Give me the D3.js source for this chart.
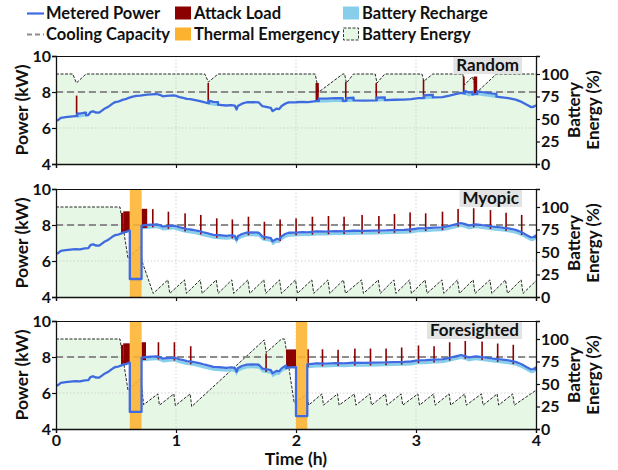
<!DOCTYPE html>
<html>
<head>
<meta charset="utf-8">
<script src="https://cdn.jsdelivr.net/npm/d3@7"></script>
<style>
  body { margin: 0; background: #fff; }
  text { font-family: Lato, "DejaVu Sans", sans-serif; font-weight: bold; fill: #111; }
</style>
</head>
<body>
<script>
// ---- data ----
const xTicks = [0, 1, 2, 3, 4];
const powerTicks = [4, 6, 8, 10];
const energyTicks = [0, 25, 50, 75, 100];
const coolingCapacity = 8;
const recharge = 0.15; // kW

// base metered power (kW) vs time (h)
const powerT = [0.00,0.02,0.04,0.08,0.12,0.16,0.20,0.24,0.27,0.29,0.31,0.33,0.36,0.38,0.40,0.42,0.44,0.46,0.48,0.50,
  0.52,0.54,0.56,0.58,0.60,0.62,0.64,0.67,0.70,0.73,0.76,0.80,0.84,0.87,0.89,0.92,0.95,0.98,1.00,1.03,
  1.06,1.09,1.12,1.16,1.20,1.24,1.28,1.31,1.36,1.42,1.46,1.49,1.505,1.515,1.55,1.59,1.64,1.69,1.72,1.76,
  1.79,1.805,1.82,1.84,1.86,1.88,1.91,1.94,2.00,2.05,2.10,2.17,2.25,2.33,2.40,2.48,2.56,2.67,2.75,2.82,
  2.90,2.96,3.02,3.08,3.15,3.22,3.28,3.33,3.375,3.41,3.44,3.47,3.50,3.55,3.60,3.64,3.70,3.77,3.83,3.88,
  3.92,3.96,3.98,4.00];
const powerV = [6.40,6.45,6.56,6.60,6.63,6.66,6.65,6.70,6.72,6.90,6.93,6.86,6.85,6.95,7.05,7.12,7.20,7.30,7.40,7.45,
  7.47,7.52,7.58,7.60,7.66,7.70,7.74,7.78,7.80,7.83,7.85,7.87,7.89,7.83,7.76,7.78,7.80,7.81,7.78,7.72,
  7.67,7.62,7.60,7.55,7.49,7.42,7.36,7.30,7.28,7.25,7.27,7.24,7.03,7.22,7.35,7.43,7.44,7.42,7.21,7.16,
  7.12,6.94,7.00,7.08,7.05,7.22,7.35,7.42,7.43,7.45,7.44,7.49,7.48,7.51,7.50,7.53,7.52,7.54,7.55,7.57,
  7.58,7.60,7.66,7.67,7.70,7.72,7.80,7.88,7.95,7.90,7.82,7.86,7.89,7.84,7.80,7.76,7.72,7.66,7.58,7.45,
  7.30,7.16,7.18,7.27];

// attack load: [start h, end h, peak kW]
const randomAttacks = [[0.165,0.178,7.8],[1.262,1.275,8.5],[2.163,2.19,8.5],[2.408,2.42,8.55],[2.662,2.674,8.5],
  [3.056,3.068,8.68],[3.39,3.405,8.86],[3.48,3.51,8.86]];
const myopicAttacks = [[0.542,0.56,8.67],[0.56,0.615,8.76],[0.713,0.76,8.9],
  [0.8,0.812,8.88],[0.93,0.942,8.74],[1.069,1.081,8.65],[1.2,1.212,8.56],[1.333,1.345,8.37],[1.463,1.475,8.31],
  [1.597,1.609,8.46],[1.73,1.742,8.18],[1.861,1.873,8.31],[1.994,2.006,8.37],[2.13,2.142,8.46],[2.264,2.276,8.5],
  [2.394,2.406,8.46],[2.544,2.556,8.56],[2.684,2.696,8.5],[2.814,2.826,8.61],[2.944,2.956,8.7],[3.074,3.086,8.65],
  [3.214,3.226,8.74],[3.344,3.356,8.89],[3.474,3.486,8.93],[3.614,3.626,8.83],[3.744,3.756,8.68],[3.874,3.886,8.56]];
const foresightedAttacks = [[0.542,0.56,8.67],[0.56,0.615,8.76],[0.713,0.75,8.82],
  [0.847,0.859,8.82],[0.98,0.992,8.82],[1.116,1.128,8.6],[1.744,1.756,8.2],[1.917,2.0,8.42],
  [2.094,2.106,8.43],[2.214,2.226,8.43],[2.344,2.356,8.4],[2.484,2.496,8.47],[2.614,2.626,8.47],[2.744,2.756,8.47],
  [2.874,2.886,8.53],[3.014,3.026,8.64],[3.144,3.156,8.6],[3.274,3.286,8.82],[3.404,3.416,8.89],[3.544,3.556,8.86],
  [3.674,3.686,8.75],[3.804,3.816,8.68]];

// battery recharge periods: [start h, end h]
const randomRecharge = [[0.178,0.25],[1.275,1.35],[2.19,2.39],[2.42,2.48],[2.674,2.74],[3.068,3.14],[3.405,3.47],[3.51,3.67]];
const myopicRecharge = [[0.713,4.0]];
const foresightedRecharge = [[0.713,1.917],[2.094,4.0]];

// thermal emergency: [start h, end h, metered kW during it]
const randomEmergency = [];
const myopicEmergency = [[0.615,0.713,5.0]];
const foresightedEmergency = [[0.615,0.713,4.95],[2.0,2.094,4.72]];

// battery energy (%): [t, %]
const randomBattery = [[0,100],[0.14,100],[0.17,90],[0.25,100],[1.24,100],[1.27,91],[1.35,100],
  [2.16,100],[2.19,80],[2.39,100],[2.405,100],[2.42,90],[2.48,100],[2.66,100],[2.675,90],[2.74,100],
  [3.05,100],[3.065,92],[3.14,100],[3.39,100],[3.405,88],[3.47,97],[3.51,80],[3.67,100],[4,100]];
const myopicBattery = [[0,100],[0.533,100],[0.6,43],[0.705,56],[0.716,40],[0.81,4],
  [0.932,19],[0.948,4],[1.071,19],[1.087,4],[1.202,19],[1.218,4],[1.335,19],[1.351,4],[1.465,19],[1.481,4],
  [1.599,19],[1.615,4],[1.732,19],[1.748,4],[1.863,19],[1.879,4],[1.996,19],[2.012,4],[2.132,19],[2.148,4],
  [2.266,19],[2.282,4],[2.396,19],[2.412,4],[2.546,19],[2.562,4],[2.686,19],[2.702,4],[2.816,19],[2.832,4],
  [2.946,19],[2.962,4],[3.076,19],[3.092,4],[3.216,19],[3.232,4],[3.346,19],[3.362,4],[3.476,19],[3.492,4],
  [3.616,19],[3.632,4],[3.746,19],[3.762,4],[3.876,19],[3.892,4],[4.0,18]];
const foresightedBattery = [[0,100],[0.533,100],[0.6,43],[0.705,56],[0.716,45],[0.73,27],
  [0.849,39],[0.862,26.5],[0.982,39],[0.995,26],[1.118,39],[1.131,25],[1.735,99],[1.752,85],
  [1.88,100],[1.905,100],[1.985,29],[2.09,38.5],[2.105,26.5],
  [2.216,39],[2.229,26.5],[2.346,39],[2.359,26.5],[2.486,39],[2.499,26.5],[2.616,39],[2.629,26.5],
  [2.746,39],[2.759,26.5],[2.876,39],[2.889,26.5],[3.016,39],[3.029,26.5],[3.146,39],[3.159,26.5],
  [3.276,39],[3.289,26.5],[3.406,39],[3.419,26.5],[3.546,39],[3.559,26.5],[3.676,39],[3.689,26.5],
  [3.806,39],[3.819,26.5],[4.0,43]];

const panels = [
  {name: "Random", attacks: randomAttacks, recharge: randomRecharge, emergency: randomEmergency, battery: randomBattery},
  {name: "Myopic", attacks: myopicAttacks, recharge: myopicRecharge, emergency: myopicEmergency, battery: myopicBattery},
  {name: "Foresighted", attacks: foresightedAttacks, recharge: foresightedRecharge, emergency: foresightedEmergency, battery: foresightedBattery}
];

// ---- layout ----
const width = 618, height = 470;
const left = 56, right = 536;
const tops = [56, 189, 321];
const ph = 108;

const colors = {power: "#3f6be0", attack: "#8b0000", recharge: "#87ceeb", emergency: "#fdb22f",
  cooling: "#8c8c8c", energyFill: "#e6f7e6"};

const svg = d3.select("body").append("svg")
  .attr("width", width).attr("height", height);

const x = d3.scaleLinear([0, 4], [left, right]);
const base = d3.scaleLinear().domain(powerT).range(powerV).clamp(true);

panels.forEach((p, i) => {
  const top = tops[i];
  const y = d3.scaleLinear([4, 10], [top + ph, top]);
  const yb = d3.scaleLinear([0, 120], [top + ph, top]);
  const g = svg.append("g");

  const clipId = "clip" + i;
  g.append("clipPath").attr("id", clipId).append("rect")
    .attr("x", left).attr("y", top).attr("width", right - left).attr("height", ph);
  const plot = g.append("g").attr("clip-path", `url(#${clipId})`);

  // battery energy area
  plot.append("path").datum(p.battery)
    .attr("fill", colors.energyFill)
    .attr("d", d3.area().x(d => x(d[0])).y0(yb(0)).y1(d => yb(d[1])));

  // grid
  plot.selectAll(".gx").data(xTicks.slice(1, -1)).enter().append("line")
    .attr("x1", d => x(d)).attr("x2", d => x(d)).attr("y1", top).attr("y2", top + ph)
    .attr("stroke", "#c8c8c8").attr("stroke-width", 0.8).attr("stroke-dasharray", "1.5,2");
  plot.selectAll(".gy").data(powerTicks.slice(1, -1)).enter().append("line")
    .attr("x1", left).attr("x2", right).attr("y1", d => y(d)).attr("y2", d => y(d))
    .attr("stroke", "#c8c8c8").attr("stroke-width", 0.8).attr("stroke-dasharray", "1.5,2");

  // battery energy line
  plot.append("path").datum(p.battery)
    .attr("fill", "none").attr("stroke", "#111").attr("stroke-width", 0.9)
    .attr("stroke-dasharray", "3,1.5")
    .attr("d", d3.line().x(d => x(d[0])).y(d => yb(d[1])));

  // cooling capacity
  plot.append("line")
    .attr("x1", left).attr("x2", right).attr("y1", y(coolingCapacity)).attr("y2", y(coolingCapacity))
    .attr("stroke", colors.cooling).attr("stroke-width", 2).attr("stroke-dasharray", "7,4");

  // metered power with recharge / emergency steps
  const inRange = (t, a, b, side) => side === "R" ? (t >= a && t < b) : (t > a && t <= b);
  const level = (t, side) => {
    for (const e of p.emergency) if (inRange(t, e[0], e[1], side)) return {lo: e[2], hi: e[2], emerg: true};
    let rc = 0;
    for (const r of p.recharge) if (inRange(t, r[0], r[1], side)) rc = recharge;
    return {lo: base(t), hi: base(t) + rc, emerg: false};
  };
  const breaks = [];
  p.recharge.forEach(r => breaks.push(r[0], r[1]));
  p.emergency.forEach(e => breaks.push(e[0], e[1]));
  const times = Array.from(new Set(powerT.concat(breaks))).sort((a, b) => a - b);
  const pts = [];
  times.forEach(t => {
    if (breaks.includes(t)) {
      pts.push(Object.assign({t}, level(t, "L")));
      pts.push(Object.assign({t}, level(t, "R")));
    } else pts.push(Object.assign({t}, level(t, "R")));
  });

  // recharge band
  plot.append("path").datum(pts)
    .attr("fill", colors.recharge)
    .attr("d", d3.area().defined(d => !d.emerg).x(d => x(d.t))
      .y0(d => y(d.lo) + 1.2).y1(d => y(d.hi) + 1.2));

  // attack load bars
  plot.selectAll(".atk").data(p.attacks).enter().append("rect")
    .attr("fill", colors.attack)
    .attr("x", d => x(d[0]))
    .attr("width", d => Math.max(1.6, x(d[1]) - x(d[0])))
    .attr("y", d => y(d[2]))
    .attr("height", d => y(base((d[0] + d[1]) / 2)) - y(d[2]));

  // thermal emergency
  plot.selectAll(".em").data(p.emergency).enter().append("rect")
    .attr("fill", colors.emergency).attr("opacity", 0.88)
    .attr("x", d => x(d[0])).attr("width", d => x(d[1]) - x(d[0]))
    .attr("y", top).attr("height", ph);

  // metered power line
  plot.append("path").datum(pts)
    .attr("fill", "none").attr("stroke", colors.power).attr("stroke-width", 2.3)
    .attr("stroke-linejoin", "round")
    .attr("d", d3.line().x(d => x(d.t)).y(d => y(d.hi)));

  // frame + axes
  g.append("line").attr("x1", left).attr("x2", right).attr("y1", top + 0.5).attr("y2", top + 0.5)
    .attr("stroke", "#111").attr("stroke-width", 1);

  const ax = g.append("g").attr("transform", `translate(0,${top + ph})`)
    .call(d3.axisBottom(x).tickValues(xTicks).tickSize(4).tickFormat(i === 2 ? d3.format("d") : ""));
  const ay = g.append("g").attr("transform", `translate(${left},0)`)
    .call(d3.axisLeft(y).tickValues(powerTicks).tickSize(4).tickFormat(d3.format("d")));
  const ayb = g.append("g").attr("transform", `translate(${right},0)`)
    .call(d3.axisRight(yb).tickValues(energyTicks).tickSize(4).tickFormat(d3.format("d")));
  [ax, ay, ayb].forEach(a => {
    a.selectAll("path").attr("stroke", "#111").attr("stroke-width", 1.3);
    a.selectAll("line").attr("stroke", "#111").attr("stroke-width", 1.2);
    a.selectAll("text").attr("font-size", 16).attr("fill", "#111");
  });
  ay.selectAll("text").attr("x", -5);
  ayb.selectAll("text").attr("x", 5);
  ax.selectAll("text").attr("y", 6);

  // panel label
  const lab = g.append("g");
  const txt = lab.append("text").text(p.name)
    .attr("x", 519).attr("y", top + 14.5).attr("text-anchor", "end").attr("font-size", 17);
  const bb = txt.node().getBBox();
  lab.insert("rect", "text").attr("x", bb.x - 3).attr("y", top + 1).attr("width", bb.width + 6)
    .attr("height", 17).attr("fill", "#e3e3e3");

  // axis titles
  const cy = top + ph / 2;
  g.append("text").text("Power (kW)").attr("font-size", 17.5).attr("text-anchor", "middle")
    .attr("transform", `translate(28,${cy}) rotate(-90)`);
  g.append("text").text("Battery").attr("font-size", 17).attr("text-anchor", "middle")
    .attr("transform", `translate(580,${cy}) rotate(-90)`);
  g.append("text").text("Energy (%)").attr("font-size", 17).attr("text-anchor", "middle")
    .attr("transform", `translate(599,${cy}) rotate(-90)`);
});

svg.append("text").text("Time (h)").attr("x", 296).attr("y", 465)
  .attr("text-anchor", "middle").attr("font-size", 17.5);

// ---- legend ----
const legend = svg.append("g");
const items = [
  {label: "Metered Power", col: 0, row: 0, kind: "line"},
  {label: "Attack Load", col: 1, row: 0, kind: "rect", fill: colors.attack},
  {label: "Battery Recharge", col: 2, row: 0, kind: "rect", fill: colors.recharge},
  {label: "Cooling Capacity", col: 0, row: 1, kind: "dash"},
  {label: "Thermal Emergency", col: 1, row: 1, kind: "rect", fill: colors.emergency},
  {label: "Battery Energy", col: 2, row: 1, kind: "energy"}
];
const colX = [27, 175, 343];
const rowY = [13.5, 34.5];
items.forEach(it => {
  const gx = colX[it.col], gy = rowY[it.row];
  if (it.kind === "line") {
    legend.append("line").attr("x1", gx).attr("x2", gx + 17).attr("y1", gy).attr("y2", gy)
      .attr("stroke", colors.power).attr("stroke-width", 2.2);
  } else if (it.kind === "dash") {
    legend.append("line").attr("x1", gx).attr("x2", gx + 17).attr("y1", gy).attr("y2", gy)
      .attr("stroke", colors.cooling).attr("stroke-width", 2).attr("stroke-dasharray", "5,3");
  } else if (it.kind === "rect") {
    legend.append("rect").attr("x", gx).attr("y", gy - 7).attr("width", 16).attr("height", 13)
      .attr("fill", it.fill);
  } else {
    legend.append("rect").attr("x", gx + 0.5).attr("y", gy - 6.5).attr("width", 15).attr("height", 12)
      .attr("fill", colors.energyFill).attr("stroke", "#222").attr("stroke-width", 0.9)
      .attr("stroke-dasharray", "3,1.5");
  }
  legend.append("text").text(it.label).attr("x", gx + 19).attr("y", gy + 5.5).attr("font-size", 16.5);
});
</script>
</body>
</html>
